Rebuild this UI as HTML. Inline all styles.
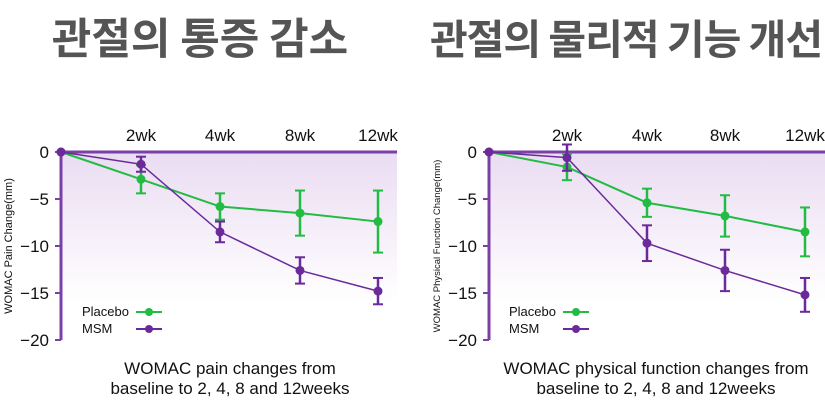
<!DOCTYPE html>
<html><head><meta charset="utf-8"><style>
body{margin:0;background:#fff;width:825px;height:401px;overflow:hidden;font-family:"Liberation Sans","Noto Sans CJK KR",sans-serif}
</style></head><body>
<svg id="s" width="825" height="401">
<defs><linearGradient id="g" x1="0" y1="0" x2="0" y2="1"><stop offset="0" stop-color="#eadcf2"/><stop offset="1" stop-color="#ffffff"/></linearGradient></defs>
<text x="200" y="54" text-anchor="middle" font-size="43" font-weight="bold" fill="#555" font-family="Noto Sans CJK KR, sans-serif">관절의 통증 감소</text>
<text x="626" y="54" text-anchor="middle" font-size="41" font-weight="bold" fill="#555" letter-spacing="-1" font-family="Noto Sans CJK KR, sans-serif">관절의 물리적 기능 개선</text>
</svg>
<script>
const categories=["2wk","4wk","8wk","12wk"];
const yTicks=[0,-5,-10,-15,-20];
const painPlacebo=[0,-2.9,-5.8,-6.5,-7.4];
const painPlaceboErr=[0,1.5,1.4,2.4,3.3];
const painMSM=[0,-1.3,-8.5,-12.6,-14.8];
const painMSMErr=[0,0.8,1.1,1.4,1.4];
const funcPlacebo=[0,-1.6,-5.4,-6.8,-8.5];
const funcPlaceboErr=[0,1.4,1.5,2.2,2.6];
const funcMSM=[0,-0.6,-9.7,-12.6,-15.2];
const funcMSMErr=[0,1.4,1.9,2.2,1.8];
const svg=document.getElementById('s');const NS="http://www.w3.org/2000/svg";
function mk(t,a,p){const e=document.createElementNS(NS,t);for(const k in a)e.setAttribute(k,a[k]);(p||svg).appendChild(e);return e;}
const G="#22bb44",P="#6a2a9a",AX="#7b3fa8";
function chart(cfg){
 const y=v=>152+(-v)*9.4;
 const x=i=>cfg.xs[i];
 const g=mk('g',{});
 
 
 const bg=mk('rect',{x:cfg.x0,y:152,width:cfg.xEnd-cfg.x0,height:150,fill:"url(#g)"},g);
 
 
 const ya=mk('line',{x1:cfg.x0,y1:152,x2:cfg.x0,y2:340,stroke:AX,'stroke-width':3},g);
 
 
 const xa=mk('line',{x1:cfg.x0,y1:152,x2:cfg.xEnd,y2:152,stroke:AX,'stroke-width':3},g);
 
 
 yTicks.forEach(t=>{
  mk('line',{x1:cfg.x0-6,y1:y(t),x2:cfg.x0,y2:y(t),stroke:AX,'stroke-width':2},g);
  const tx=mk('text',{x:cfg.x0-12,y:y(t)+6,'text-anchor':'end','font-size':17,fill:'#111'},g);
  tx.textContent=t===0?"0":"\u2212"+(-t);
  
  
 });
 categories.forEach((c,i)=>{
  const tx=mk('text',{x:x(i+1),y:141,'text-anchor':'middle','font-size':17,fill:'#111'},g);
  tx.textContent=c;
  
  
 });
 const yl=mk('text',{'text-anchor':'middle','font-size':cfg.ylSize,fill:'#111'},g);
 yl.setAttribute('transform',`translate(${cfg.x0-49},246) rotate(-90)`);
 yl.textContent=cfg.ylabel;
 
 
 [[cfg.pl,cfg.plE,G,2,'placebo-series'],[cfg.ms,cfg.msE,P,1.5,'msm-series']].forEach(([v,e,c,w,n])=>{
  const sg=mk('g',{},g);
  
  
  mk('polyline',{points:v.map((d,i)=>x(i)+','+y(d)).join(' '),fill:'none',stroke:c,'stroke-width':w},sg);
  v.forEach((d,i)=>{
   if(e[i]>0){
    mk('line',{x1:x(i),y1:y(d-e[i]),x2:x(i),y2:y(d+e[i]),stroke:c,'stroke-width':2.5},sg);
    mk('line',{x1:x(i)-5,y1:y(d-e[i]),x2:x(i)+5,y2:y(d-e[i]),stroke:c,'stroke-width':2},sg);
    mk('line',{x1:x(i)-5,y1:y(d+e[i]),x2:x(i)+5,y2:y(d+e[i]),stroke:c,'stroke-width':2},sg);
   }
   const pt=mk('circle',{cx:x(i),cy:y(d),r:4.5,fill:i===0?P:c},sg);
   
   
  });
 });
 [["Placebo",G,312],["MSM",P,329]].forEach(([l,c,yy])=>{
  const lg=mk('g',{},g);
  
  
  const t=mk('text',{x:cfg.legX,y:yy+4,'font-size':13,fill:'#111'},lg);t.textContent=l;
  mk('line',{x1:cfg.legX+54,y1:yy,x2:cfg.legX+80,y2:yy,stroke:c,'stroke-width':2},lg);
  mk('circle',{cx:cfg.legX+67,cy:yy,r:4,fill:c},lg);
 });
 cfg.caption.forEach((s,i)=>{
  const t=mk('text',{x:cfg.capX,y:374+i*20,'text-anchor':'middle','font-size':17,fill:'#111'},g);
  t.textContent=s;
  
  
 });
}
chart({name:'pain-chart',x0:61,xEnd:397,xs:[61,141,220,300,378],pl:painPlacebo,plE:painPlaceboErr,ms:painMSM,msE:painMSMErr,ylabel:"WOMAC Pain Change(mm)",ylSize:11,legX:82,capX:230,caption:["WOMAC pain changes from","baseline to 2, 4, 8 and 12weeks"]});
chart({name:'function-chart',x0:489,xEnd:825,xs:[489,567,647,725,805],pl:funcPlacebo,plE:funcPlaceboErr,ms:funcMSM,msE:funcMSMErr,ylabel:"WOMAC Physical Function Change(mm)",ylSize:9.5,legX:509,capX:656,caption:["WOMAC physical function changes from","baseline to 2, 4, 8 and 12weeks"]});
</script>
</body></html>
